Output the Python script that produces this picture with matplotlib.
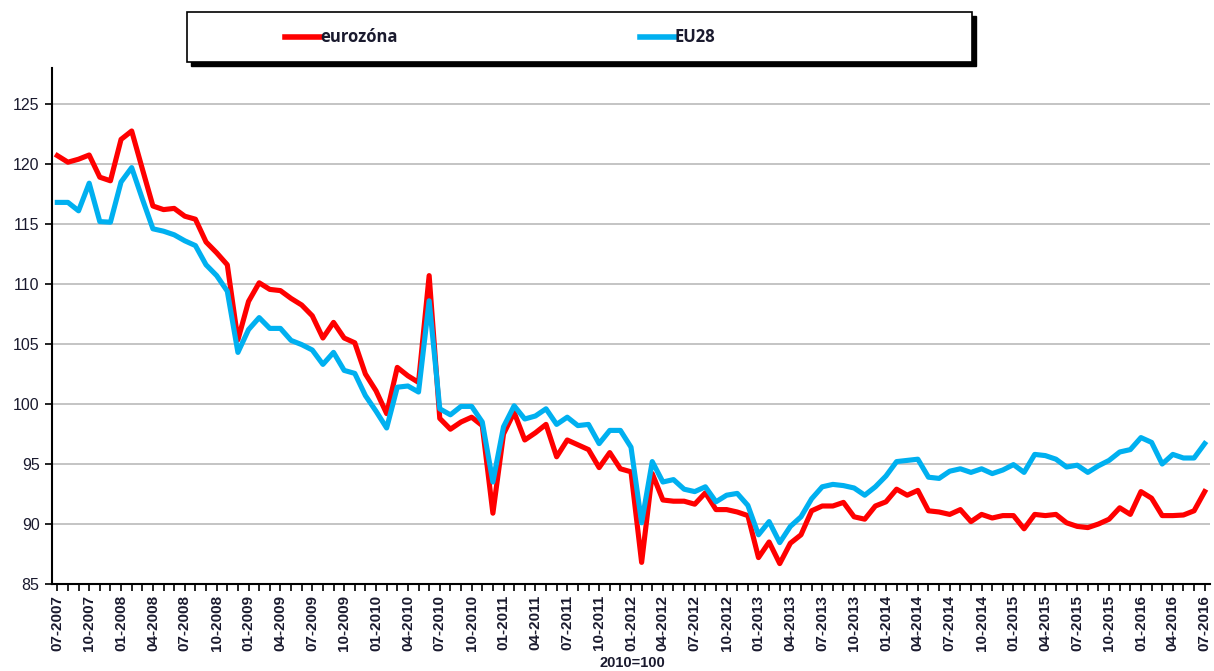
import matplotlib
matplotlib.use("Agg")
import matplotlib.pyplot as plt
from matplotlib.patches import Rectangle
from matplotlib.lines import Line2D

plt.rcParams['font.family'] = ['Liberation Sans', 'DejaVu Sans']

tick_labels = [
    "07-2007", "10-2007", "01-2008", "04-2008", "07-2008", "10-2008",
    "01-2009", "04-2009", "07-2009", "10-2009", "01-2010", "04-2010",
    "07-2010", "10-2010", "01-2011", "04-2011", "07-2011", "10-2011",
    "01-2012", "04-2012", "07-2012", "10-2012", "01-2013", "04-2013",
    "07-2013", "10-2013", "01-2014", "04-2014", "07-2014", "10-2014",
    "01-2015", "04-2015", "07-2015", "10-2015", "01-2016", "04-2016",
    "07-2016",
]

eurozone = [
    120.7, 120.15, 120.4, 120.75, 118.9, 118.6, 122.05, 122.75, 119.6, 116.5,
    116.2, 116.3, 115.65, 115.4, 113.5, 112.6, 111.6, 105.35, 108.55, 110.1,
    109.55, 109.45, 108.8, 108.25, 107.35, 105.5, 106.8, 105.5, 105.1, 102.5,
    101.1, 99.2, 103.05, 102.35, 101.8, 110.7, 98.8, 97.9, 98.5, 98.9,
    98.2, 90.9, 97.5, 99.3, 97.0, 97.6, 98.3, 95.6, 97.0, 96.6,
    96.2, 94.7, 95.95, 94.6, 94.35, 86.8, 94.2, 92.0, 91.9, 91.9,
    91.65, 92.6, 91.2, 91.2, 91.0, 90.7, 87.2, 88.5, 86.7, 88.4,
    89.1, 91.1, 91.5, 91.5, 91.8, 90.6, 90.4, 91.5, 91.85, 92.9,
    92.4, 92.8, 91.1, 91.0, 90.8, 91.2, 90.2, 90.8, 90.5, 90.7,
    90.7, 89.6, 90.8, 90.7, 90.8, 90.1, 89.8, 89.7, 90.0, 90.4,
    91.35, 90.8, 92.7, 92.15, 90.7, 90.7, 90.75, 91.1, 92.7,
]

eu28 = [
    116.8, 116.8, 116.1, 118.4, 115.2, 115.15, 118.5, 119.7, 117.1, 114.6,
    114.4, 114.1, 113.6, 113.2, 111.6, 110.7, 109.4, 104.3, 106.2, 107.2,
    106.3, 106.3, 105.3, 104.95, 104.5, 103.3, 104.3, 102.8, 102.55, 100.7,
    99.4, 98.0, 101.4, 101.5, 101.0, 108.6, 99.6, 99.1, 99.8, 99.8,
    98.5, 93.5, 98.1, 99.85, 98.75, 99.0, 99.6, 98.3, 98.9, 98.2,
    98.3, 96.7, 97.8, 97.8, 96.4, 90.1, 95.2, 93.5, 93.7, 92.9,
    92.7, 93.1, 91.85, 92.4, 92.55, 91.55, 89.1, 90.2, 88.45, 89.8,
    90.6, 92.1, 93.1, 93.3, 93.2, 93.0, 92.4, 93.1, 94.0, 95.2,
    95.3, 95.4, 93.9, 93.8, 94.4, 94.6, 94.3, 94.6, 94.2, 94.5,
    94.95, 94.3, 95.8, 95.7, 95.4, 94.75, 94.9, 94.3, 94.85, 95.3,
    96.0, 96.2, 97.2, 96.8, 95.0, 95.8, 95.5, 95.5, 96.7,
]

series_names = ["eurozóna", "EU28"]
RED = "#FF0000"
BLUE = "#00B0F0"

W, H = 1214, 671
fig = plt.figure(figsize=(W / 100, H / 100), dpi=100)
ax = fig.add_axes([52 / W, 1 - 584 / H, (1210 - 52) / W, (584 - 68) / H])

x = list(range(len(eurozone)))
ax.plot(x, eurozone, color=RED, lw=3.7, solid_joinstyle='round', zorder=3)
ax.plot(x, eu28, color=BLUE, lw=3.7, solid_joinstyle='round', zorder=4)

ax.set_xlim(-0.5, len(x) - 0.5)
ax.set_ylim(85, 128)
ax.set_yticks(range(85, 126, 5))
ax.set_yticklabels([str(v) for v in range(85, 126, 5)], fontsize=11.5, color='#1a1a2e')
ax.yaxis.grid(True, color='#BFBFBF', lw=1.3)
ax.set_axisbelow(True)

ax.set_xticks(range(0, len(x), 3))
ax.set_xticklabels(tick_labels, rotation=90, fontsize=11, fontweight='bold', color='#1a1a2e')
ax.set_xticks(range(len(x)), minor=True)
ax.tick_params(axis='x', which='both', direction='out', length=5, width=1.2, color='black', pad=3)
ax.tick_params(axis='y', direction='out', length=5, width=1.2, color='black', pad=4)

for s in ['top', 'right']:
    ax.spines[s].set_visible(False)
for s in ['left', 'bottom']:
    ax.spines[s].set_linewidth(1.5)
    ax.spines[s].set_color('black')

fig.text(632 / W, 1 - 663 / H, "2010=100", ha='center', va='center', fontsize=10.5, fontweight='bold', color='#1a1a2e')

# legend box
bx0, by0, bx1, by1 = 187, 12, 972, 62
fig.patches.append(Rectangle(((bx0 + 4) / W, 1 - (by1 + 4) / H), (bx1 - bx0) / W, (by1 - by0) / H,
                             transform=fig.transFigure, facecolor='black', edgecolor='black', zorder=1))
fig.patches.append(Rectangle((bx0 / W, 1 - by1 / H), (bx1 - bx0) / W, (by1 - by0) / H,
                             transform=fig.transFigure, facecolor='white', edgecolor='black', lw=1.2, zorder=2))
ly = 1 - 37 / H
for (xa, xb, col, name) in [(285, 320, RED, series_names[0]), (640, 675, BLUE, series_names[1])]:
    fig.lines.append(Line2D([xa / W, xb / W], [ly, ly], transform=fig.transFigure, color=col, lw=4, zorder=3))
    fig.text(xb / W, ly, name, ha='left', va='center', fontsize=12, fontweight='bold',
             family=['Open Sans', 'DejaVu Sans'], color='#1a1a2e', zorder=4)

fig.savefig("out.png", dpi=100)
